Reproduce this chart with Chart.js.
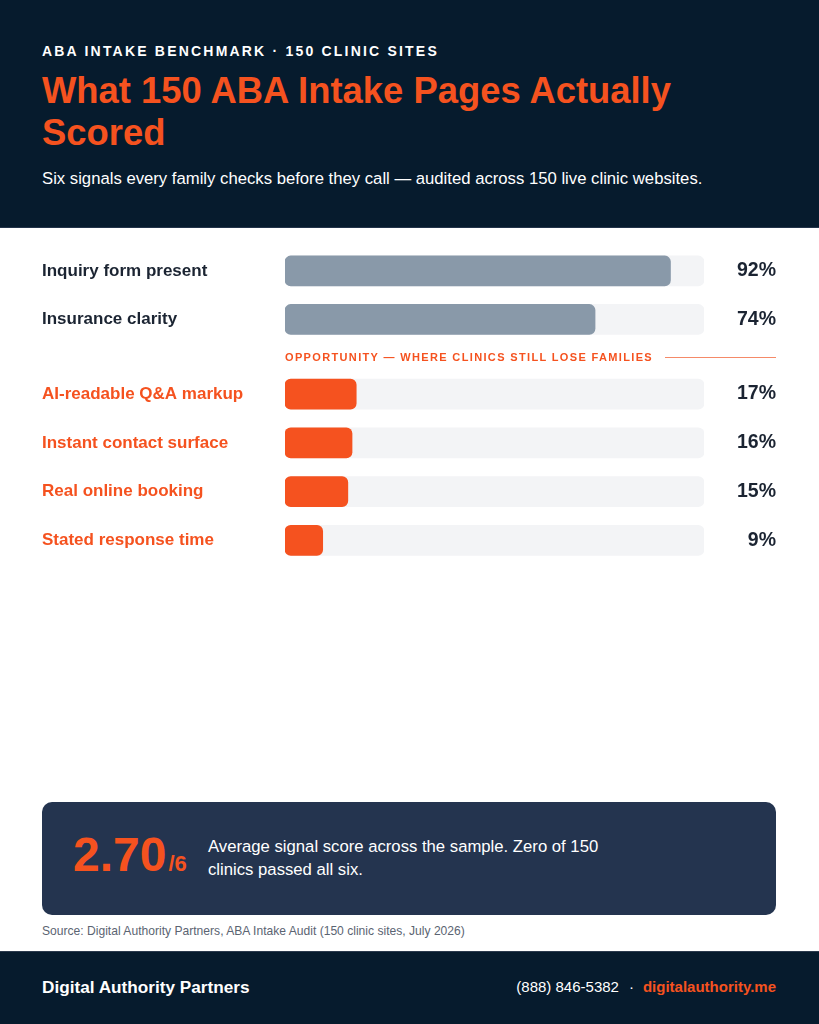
<!DOCTYPE html>
<html>
<head>
<meta charset="utf-8">
<script src="https://cdn.jsdelivr.net/npm/chart.js@4.4.1/dist/chart.umd.min.js"></script>
<style>
  html, body { margin:0; padding:0; }
  body { width:819px; height:1024px; position:relative; background:#ffffff; overflow:hidden;
         font-family:"Liberation Sans", Arial, Helvetica, sans-serif; }
  .abs { position:absolute; }
  #header { left:0; top:0; width:819px; height:228px; background:#061b2d; border-bottom:1px solid #23344a; box-sizing:border-box; }
  #eyebrow { left:42px; top:41px; font-size:14px; line-height:20px; font-weight:bold; color:#ffffff; letter-spacing:2.2px; white-space:nowrap; }
  #title { left:42px; top:69.5px; width:720px; font-size:36.4px; line-height:42px; font-weight:bold; color:#f5521f; }
  #subtitle { left:42px; top:167px; font-size:16.7px; line-height:24px; color:#ffffff; white-space:nowrap; }
  .chartbox { left:42px; width:734px; }
  #divider { left:285px; top:349px; width:491px; height:17px; display:flex; align-items:center; }
  #divider span { font-size:11px; line-height:17px; font-weight:bold; color:#f5521f; letter-spacing:1.35px; white-space:nowrap; }
  #line { left:665px; top:357px; width:111px; height:1px; background:#f58a68; }
  #scorebox { left:42px; top:802px; width:734px; height:113px; background:#24344f; border-radius:10px; }
  #score { left:73px; top:825px; font-size:48px; line-height:60px; font-weight:bold; color:#f5521f; white-space:nowrap; }
  #score small { font-size:22px; margin-left:2px; }
  #scoretext { left:208px; top:835px; width:420px; font-size:16.7px; line-height:23px; color:#ffffff; }
  #source { left:42px; top:922px; font-size:12.1px; line-height:18px; color:#5b6472; white-space:nowrap; }
  #footer { left:0; top:951px; width:819px; height:73px; background:#061b2d; border-top:1px solid #2b3a4d; box-sizing:border-box; }
  #brand { left:42px; top:976px; font-size:17.2px; line-height:22px; font-weight:bold; color:#ffffff; white-space:nowrap; }
  #contact { right:43px; top:977px; font-size:15px; line-height:20px; color:#ffffff; white-space:nowrap; }
  #contact .sep { margin:0 9px 0 10px; }
  #contact b { color:#f5521f; }
</style>
</head>
<body>
<div id="header" class="abs"></div>
<div id="eyebrow" class="abs">ABA INTAKE BENCHMARK · 150 CLINIC SITES</div>
<div id="title" class="abs">What 150 ABA Intake Pages Actually<br>Scored</div>
<div id="subtitle" class="abs">Six signals every family checks before they call — audited across 150 live clinic websites.</div>

<!-- chart area = box minus ~11.7px label padding top & bottom -->
<div class="abs chartbox" style="top:234.5px;height:120.4px;"><canvas id="topChart"></canvas></div>
<div id="divider" class="abs"><span>OPPORTUNITY — WHERE CLINICS STILL LOSE FAMILIES</span></div>
<div id="line" class="abs"></div>
<div class="abs chartbox" style="top:358px;height:218.4px;"><canvas id="gapChart"></canvas></div>

<div id="scorebox" class="abs"></div>
<div id="score" class="abs">2.70<small>/6</small></div>
<div id="scoretext" class="abs">Average signal score across the sample. Zero of 150 clinics passed all six.</div>
<div id="source" class="abs">Source: Digital Authority Partners, ABA Intake Audit (150 clinic sites, July 2026)</div>

<div id="footer" class="abs"></div>
<div id="brand" class="abs">Digital Authority Partners</div>
<div id="contact" class="abs">(888) 846-5382<span class="sep">·</span><b>digitalauthority.me</b></div>

<script>
// ---- data ----
const topCategories = ['Inquiry form present', 'Insurance clarity'];
const topValues = [92, 74];
const gapCategories = ['AI-readable Q&A markup', 'Instant contact surface', 'Real online booking', 'Stated response time'];
const gapValues = [17, 16, 15, 9];
const scaleMax = 100;

// ---- styling ----
const FONT = '"Liberation Sans", Arial, Helvetica, sans-serif';
const TRACK = '#f3f4f6';
const GRAY = '#8999a9';
const ORANGE = '#f5521f';
const DARK = '#1b2432';

function makeChart(canvasId, categories, values, barColor, labelColor) {
  const pctLabels = values.map(v => v + '%');
  const track = categories.map(() => scaleMax);
  return new Chart(document.getElementById(canvasId), {
    type: 'bar',
    data: {
      labels: categories,
      datasets: [
        { data: values, backgroundColor: barColor, borderRadius: 6, borderSkipped: false,
          barThickness: 30, grouped: false, order: 1 },
        { data: track, backgroundColor: TRACK, borderRadius: 6, borderSkipped: false,
          barThickness: 30, grouped: false, order: 2 }
      ]
    },
    options: {
      indexAxis: 'y',
      responsive: true,
      maintainAspectRatio: false,
      animation: false,
      layout: { padding: 0 },
      plugins: { legend: { display: false }, tooltip: { enabled: false } },
      scales: {
        x: { display: false, min: 0, max: scaleMax },
        y: {
          position: 'left', offset: true,
          grid: { display: false }, border: { display: false },
          afterFit: s => { s.width = 243; },
          ticks: { crossAlign: 'far', padding: 0, autoSkip: false,
                   color: labelColor, font: { family: FONT, size: 17, weight: 'bold' } }
        },
        y2: {
          type: 'category', position: 'right', offset: true, labels: pctLabels,
          grid: { display: false }, border: { display: false },
          afterFit: s => { s.width = 72; },
          ticks: { crossAlign: 'far', padding: 0, autoSkip: false,
                   color: DARK, font: { family: FONT, size: 19.5, weight: 'bold' } }
        }
      }
    }
  });
}

makeChart('topChart', topCategories, topValues, GRAY, DARK);
makeChart('gapChart', gapCategories, gapValues, ORANGE, ORANGE);
</script>
</body>
</html>
